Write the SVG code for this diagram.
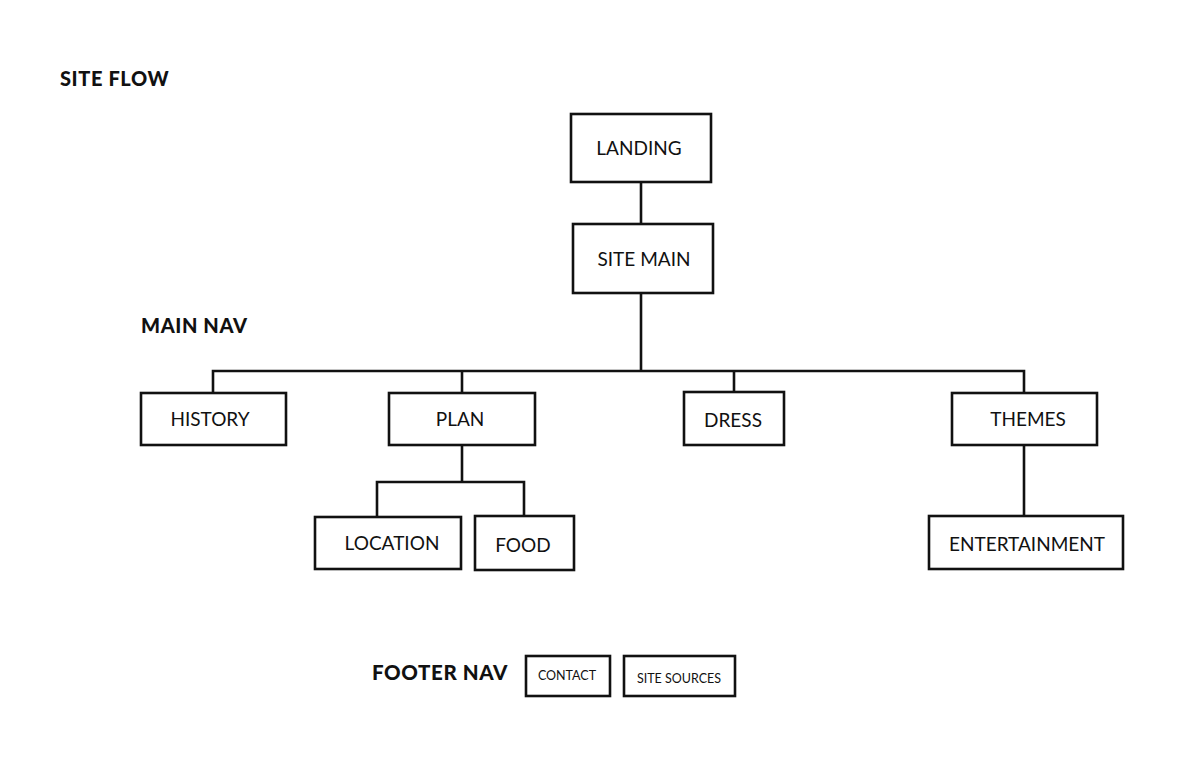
<svg xmlns="http://www.w3.org/2000/svg" width="1200" height="776" viewBox="0 0 1200 776">
<style>
.box{fill:#fff;stroke:#111;stroke-width:2.6}
.lbl{font-family:Lato,"Liberation Sans",sans-serif;font-size:19px;fill:#111;text-anchor:middle}
.sm{font-size:12.5px}
.hd{font-family:Lato,"Liberation Sans",sans-serif;font-size:20px;font-weight:900;letter-spacing:0.6px;fill:#111}
.conn{fill:none;stroke:#111;stroke-width:2.6}
</style>
<rect width="1200" height="776" fill="#fff"/>
<text class="hd" x="60" y="86">SITE FLOW</text>
<text class="hd" x="141" y="333">MAIN NAV</text>
<text class="hd" x="372" y="680" style="font-size:20.5px">FOOTER NAV</text>
<g id="connectors">
<path class="conn" d="M641 182V224"/>
<path class="conn" d="M641 293V371"/>
<path class="conn" d="M213 393V371H1024V393"/>
<path class="conn" d="M462 371V393"/>
<path class="conn" d="M734 371V392"/>
<path class="conn" d="M462 445V482"/>
<path class="conn" d="M377 517V482H524V516"/>
<path class="conn" d="M1024 445V516"/>
</g>
<g id="landing"><rect class="box" x="571" y="114" width="140" height="68"/><text class="lbl" x="639" y="155">LANDING</text></g>
<g id="site-main"><rect class="box" x="573" y="224" width="140" height="69"/><text class="lbl" x="644" y="266">SITE MAIN</text></g>
<g id="history"><rect class="box" x="141" y="393" width="145" height="52"/><text class="lbl" x="210" y="426">HISTORY</text></g>
<g id="plan"><rect class="box" x="389" y="393" width="146" height="52"/><text class="lbl" x="460" y="426">PLAN</text></g>
<g id="dress"><rect class="box" x="684" y="392" width="100" height="53"/><text class="lbl" x="733" y="427">DRESS</text></g>
<g id="themes"><rect class="box" x="952" y="393" width="145" height="52"/><text class="lbl" x="1028" y="426">THEMES</text></g>
<g id="location"><rect class="box" x="315" y="517" width="146" height="52"/><text class="lbl" x="392" y="550">LOCATION</text></g>
<g id="food"><rect class="box" x="475" y="516" width="99" height="54"/><text class="lbl" x="523" y="552">FOOD</text></g>
<g id="entertainment"><rect class="box" x="929" y="516" width="194" height="53"/><text class="lbl" x="1027" y="551">ENTERTAINMENT</text></g>
<g id="contact"><rect class="box" x="526" y="656" width="84" height="40"/><text class="lbl sm" x="567" y="680">CONTACT</text></g>
<g id="site-sources"><rect class="box" x="624" y="656" width="111" height="40"/><text class="lbl sm" x="679" y="683">SITE SOURCES</text></g>
</svg>
